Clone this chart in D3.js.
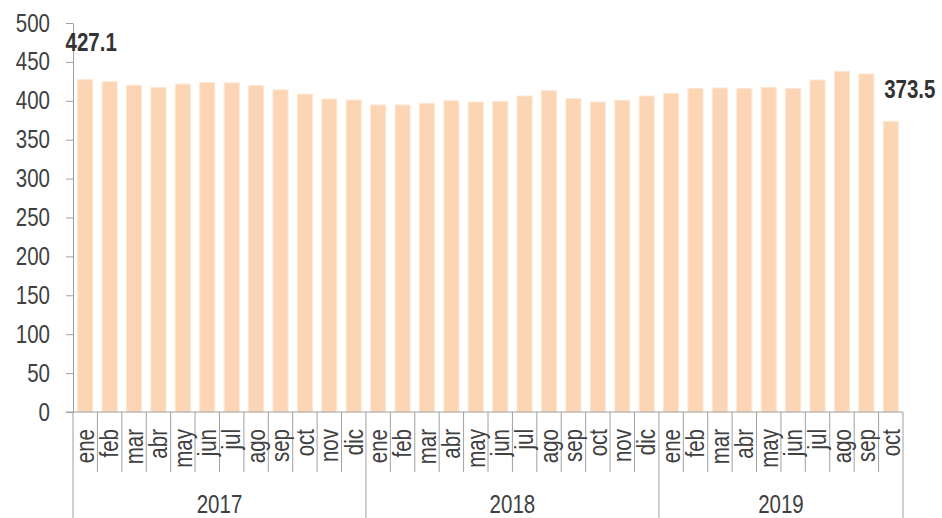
<!DOCTYPE html>
<html>
<head>
<meta charset="utf-8">
<script src="https://cdn.jsdelivr.net/npm/d3@7"></script>
<style>
  body { margin: 0; background: #fff; }
  text { font-family: "Liberation Sans", Arial, sans-serif; fill: #404040; }
</style>
</head>
<body>
<div id="chart"></div>
<script>
// data
const years = ["2017", "2018", "2019"];
const months = ["ene", "feb", "mar", "abr", "may", "jun", "jul", "ago", "sep", "oct", "nov", "dic"];
const values2017 = [427.1, 424.5, 420.0, 417.0, 421.5, 423.5, 423.0, 419.5, 414.0, 408.5, 402.3, 401.0];
const values2018 = [394.6, 394.6, 396.8, 400.1, 398.4, 399.3, 406.1, 413.0, 402.7, 398.4, 400.6, 406.1];
const values2019 = [409.6, 416.0, 416.4, 416.0, 417.3, 416.0, 426.7, 437.9, 434.4, 373.5];
const yTicks = [0, 50, 100, 150, 200, 250, 300, 350, 400, 450, 500];

const seriesByYear = [values2017, values2018, values2019];
const data = [];
seriesByYear.forEach((vals, yi) => {
    vals.forEach((v, mi) => data.push({ key: years[yi] + "-" + mi, year: years[yi], month: months[mi], value: v }));
});

const W = 942, H = 518;
const margin = {top: 23, right: 39, bottom: 106, left: 73};
const width = W - margin.left - margin.right;
const height = H - margin.top - margin.bottom;
const fs = 25;       // font size
const narrow = 0.82; // squeeze to look like a narrow face

const svg = d3.select("#chart").append("svg")
    .attr("width", W)
    .attr("height", H);

const g = svg.append("g").attr("transform", `translate(${margin.left},${margin.top})`);

const x = d3.scaleBand().domain(data.map(d => d.key)).range([0, width])
    .paddingInner(0.385).paddingOuter(0.1925);
const y = d3.scaleLinear().domain([0, 500]).range([height, 0]);
const step = x.step();

// bars
g.selectAll("rect.bar")
    .data(data)
    .enter().append("rect")
    .attr("class", "bar")
    .attr("x", d => x(d.key))
    .attr("y", d => y(d.value))
    .attr("width", x.bandwidth())
    .attr("height", d => y(0) - y(d.value))
    .attr("fill", "#fcd5b4")
    .attr("stroke", "#fde6d2")
    .attr("stroke-width", 1);

// y axis
const yAxis = g.append("g")
    .call(d3.axisLeft(y).tickValues(yTicks).tickSize(7).tickPadding(16).tickSizeOuter(0));
yAxis.select(".domain").attr("stroke", "#a0a0a0");
yAxis.selectAll(".tick line").attr("stroke", "#a0a0a0");
yAxis.selectAll(".tick text")
    .attr("font-size", fs)
    .attr("fill", "#404040")
    .style("font-family", "'Liberation Sans', Arial, sans-serif")
    .attr("x", -23 / narrow)
    .attr("transform", `scale(${narrow},1)`);

// x axis baseline
g.append("line")
    .attr("x1", -7).attr("x2", width)
    .attr("y1", height).attr("y2", height)
    .attr("stroke", "#a0a0a0");

// month separators
const xg = g.append("g").attr("transform", `translate(0,${height})`);
data.forEach(d => {
    if (months.indexOf(d.month) === 0) return;
    const bx = x(d.key) - x.paddingOuter() * step;
    xg.append("line")
        .attr("x1", bx).attr("x2", bx)
        .attr("y1", 0).attr("y2", 60)
        .attr("stroke", "#a0a0a0");
});

// month labels
xg.selectAll("text.month")
    .data(data)
    .enter().append("text")
    .attr("class", "month")
    .attr("transform", d => `translate(${x(d.key) + x.bandwidth() / 2},17) rotate(-90) scale(${narrow},1)`)
    .attr("text-anchor", "end")
    .attr("dy", "0.35em")
    .attr("font-size", fs)
    .text(d => d.month);

// year separators and labels
let start = 0;
seriesByYear.forEach((vals, yi) => {
    const x0 = start * step;
    const x1 = (start + vals.length) * step;
    xg.append("line")
        .attr("x1", x0).attr("x2", x0)
        .attr("y1", 0).attr("y2", margin.bottom)
        .attr("stroke", "#a0a0a0");
    if (yi === seriesByYear.length - 1) {
        xg.append("line")
            .attr("x1", x1).attr("x2", x1)
            .attr("y1", 0).attr("y2", margin.bottom)
            .attr("stroke", "#a0a0a0");
    }
    xg.append("text")
        .attr("transform", `translate(${(x0 + x1) / 2},101) scale(${narrow},1)`)
        .attr("text-anchor", "middle")
        .attr("font-size", fs)
        .text(years[yi]);
    start += vals.length;
});

// value labels for first and last bar
const first = data[0], last = data[data.length - 1];
[[first, 6, 29], [last, 19, 23]].forEach(([d, dx, dy]) => {
    g.append("text")
        .attr("transform", `translate(${x(d.key) + x.bandwidth() / 2 + dx},${y(d.value) - dy}) scale(${narrow},1)`)
        .attr("text-anchor", "middle")
        .attr("font-size", fs)
        .attr("font-weight", "bold")
        .style("fill", "#333")
        .text(d3.format(".1f")(d.value));
});
</script>
</body>
</html>
